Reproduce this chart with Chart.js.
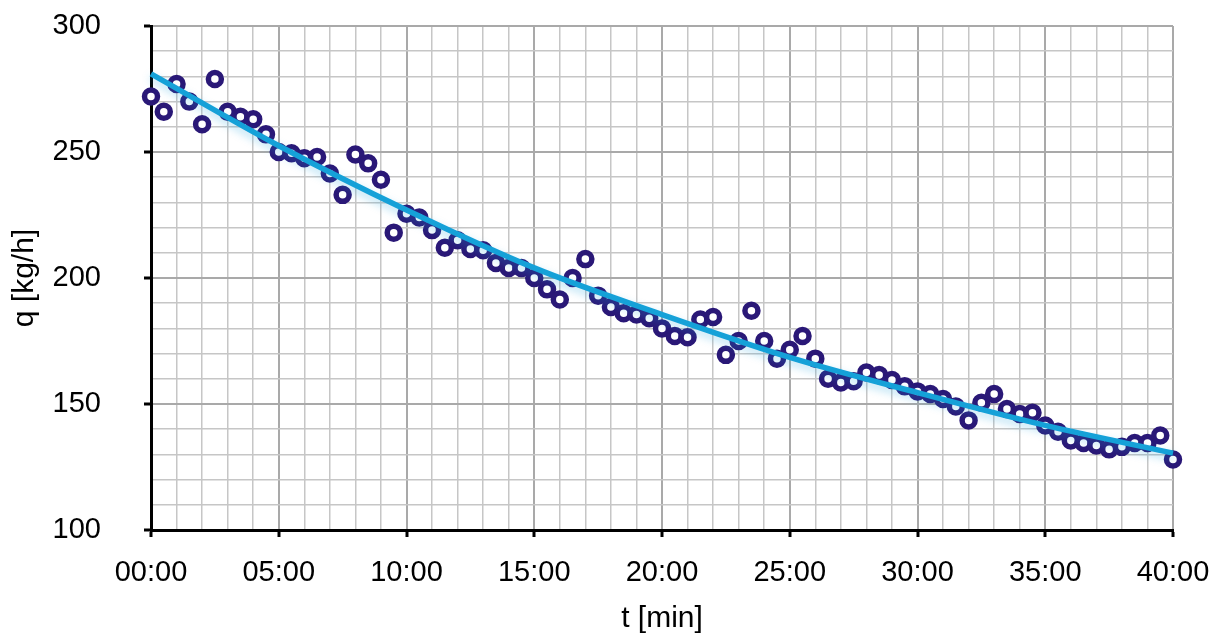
<!DOCTYPE html>
<html>
<head>
<meta charset="utf-8">
<title>q over t</title>
<script src="https://cdn.jsdelivr.net/npm/chart.js@4.4.1/dist/chart.umd.min.js"></script>
<style>
  html, body { margin: 0; padding: 0; background: #fff; }
</style>
</head>
<body>
<canvas id="flowChart" width="1211" height="634"></canvas>
<script>
// measurement times in minutes
const times = [
  0, 0.5, 1, 1.5, 2, 2.5, 3, 3.5, 4, 4.5,
  5, 5.5, 6, 6.5, 7, 7.5, 8, 8.5, 9, 9.5,
  10, 10.5, 11, 11.5, 12, 12.5, 13, 13.5, 14, 14.5,
  15, 15.5, 16, 16.5, 17, 17.5, 18, 18.5, 19, 19.5,
  20, 20.5, 21, 21.5, 22, 22.5, 23, 23.5, 24, 24.5,
  25, 25.5, 26, 26.5, 27, 27.5, 28, 28.5, 29, 29.5,
  30, 30.5, 31, 31.5, 32, 32.5, 33, 33.5, 34, 34.5,
  35, 35.5, 36, 36.5, 37, 37.5, 38, 38.5, 39, 39.5, 40
];

// measured flow q [kg/h]
const flowRates = [
  272, 266, 277, 270, 261, 279, 266, 264, 263, 257,
  250, 249.5, 247.5, 248, 241.5, 233, 249, 245.5, 239, 218,
  225.5, 224, 219, 212, 215, 211.5, 211, 206, 204, 204,
  200, 195.5, 191.5, 200, 207.5, 193, 188.5, 186, 185.5, 184,
  180, 177, 176.5, 183.5, 184.5, 169.5, 175, 187, 175, 168,
  171.5, 177, 168, 160, 158.5, 159, 162.5, 161.5, 159.5, 157,
  155, 154, 152, 149, 143.5, 150.5, 154, 148, 146, 146.5,
  141.5, 139, 135.5, 134.5, 133.5, 132, 133, 134.5, 134.5, 137.5, 128
];

// trend line
const trendTimes = [0, 5, 10, 15, 20, 25, 30, 35, 40];
const trendValues = [281, 252.5, 227, 204, 185.5, 168.5, 154.5, 141.5, 130.5];

const FONT = "'Liberation Sans', Arial, Helvetica, sans-serif";

function toPoints(xs, ys) {
  return xs.map((x, i) => ({ x: x, y: ys[i] }));
}

function formatMinutes(value) {
  return String(value).padStart(2, "0") + ":00";
}

// soft glow under the trend line
const lineGlow = {
  id: "lineGlow",
  beforeDatasetDraw(chart, args) {
    if (args.index !== 1) return;
    const ctx = chart.ctx;
    ctx.save();
    ctx.shadowColor = "rgba(30,160,220,0.35)";
    ctx.shadowBlur = 8;
    ctx.shadowOffsetY = 4;
  },
  afterDatasetDraw(chart, args) {
    if (args.index !== 1) return;
    chart.ctx.restore();
  },
};

function isMajor(value, step) {
  return Math.abs(value % step) < 1e-6;
}

function buildChart() {
  new Chart(document.getElementById("flowChart"), {
    type: "scatter",
    data: {
      datasets: [
        {
          label: "q",
          data: toPoints(times, flowRates),
          pointRadius: 6.5,
          pointBorderWidth: 5.5,
          pointBackgroundColor: "#ffffff",
          pointBorderColor: "#2a1877",
          clip: false,
          order: 1,
        },
        {
          type: "line",
          label: "trend",
          data: toPoints(trendTimes, trendValues),
          borderColor: "#15a1d8",
          borderWidth: 5.5,
          pointRadius: 0,
          fill: false,
          cubicInterpolationMode: "monotone",
          clip: false,
          order: 0,
        },
      ],
    },
    options: {
      responsive: false,
      animation: false,
      layout: { padding: { top: 26, right: 38, left: 0, bottom: 0 } },
      plugins: {
        legend: { display: false },
        tooltip: { enabled: false },
      },
      scales: {
        x: {
          type: "linear",
          min: 0,
          max: 40,
          afterFit: (scale) => {
            scale.height = 104;
            scale.paddingLeft = 0;
            scale.paddingRight = 0;
          },
          border: { color: "#000", width: 3 },
          grid: {
            color: (c) => (isMajor(c.tick.value, 5) ? "#a9a9a9" : "#c6c6c6"),
            lineWidth: (c) => (isMajor(c.tick.value, 5) ? 2 : 1.5),
            tickColor: (c) => (isMajor(c.tick.value, 5) ? "#000" : "rgba(0,0,0,0)"),
            tickWidth: 3,
            tickLength: 7,
          },
          ticks: {
            stepSize: 1,
            autoSkip: false,
            maxRotation: 0,
            padding: 19,
            color: "#000",
            font: { family: FONT, size: 29 },
            callback: (v) => (isMajor(v, 5) ? formatMinutes(v) : ""),
          },
          title: {
            display: true,
            text: "t [min]",
            color: "#000",
            font: { family: FONT, size: 30, lineHeight: 1 },
            padding: 0,
          },
        },
        y: {
          min: 100,
          max: 300,
          afterFit: (scale) => {
            scale.width = 151;
            scale.paddingTop = 0;
            scale.paddingBottom = 0;
          },
          border: { color: "#000", width: 3 },
          grid: {
            color: (c) => (isMajor(c.tick.value, 50) ? "#a9a9a9" : "#c6c6c6"),
            lineWidth: (c) => (isMajor(c.tick.value, 50) ? 2 : 1.5),
            tickColor: (c) => (isMajor(c.tick.value, 50) ? "#000" : "rgba(0,0,0,0)"),
            tickWidth: 3,
            tickLength: 7,
          },
          ticks: {
            stepSize: 10,
            autoSkip: false,
            padding: 43,
            color: "#000",
            font: { family: FONT, size: 29 },
            callback: (v) => (isMajor(v, 50) ? String(v) : ""),
          },
          title: {
            display: true,
            text: "q [kg/h]",
            color: "#000",
            font: { family: FONT, size: 30, lineHeight: 1 },
            padding: { top: 10, bottom: 0 },
          },
        },
      },
    },
    plugins: [lineGlow],
  });
}

window.onload = buildChart;
</script>
</body>
</html>
